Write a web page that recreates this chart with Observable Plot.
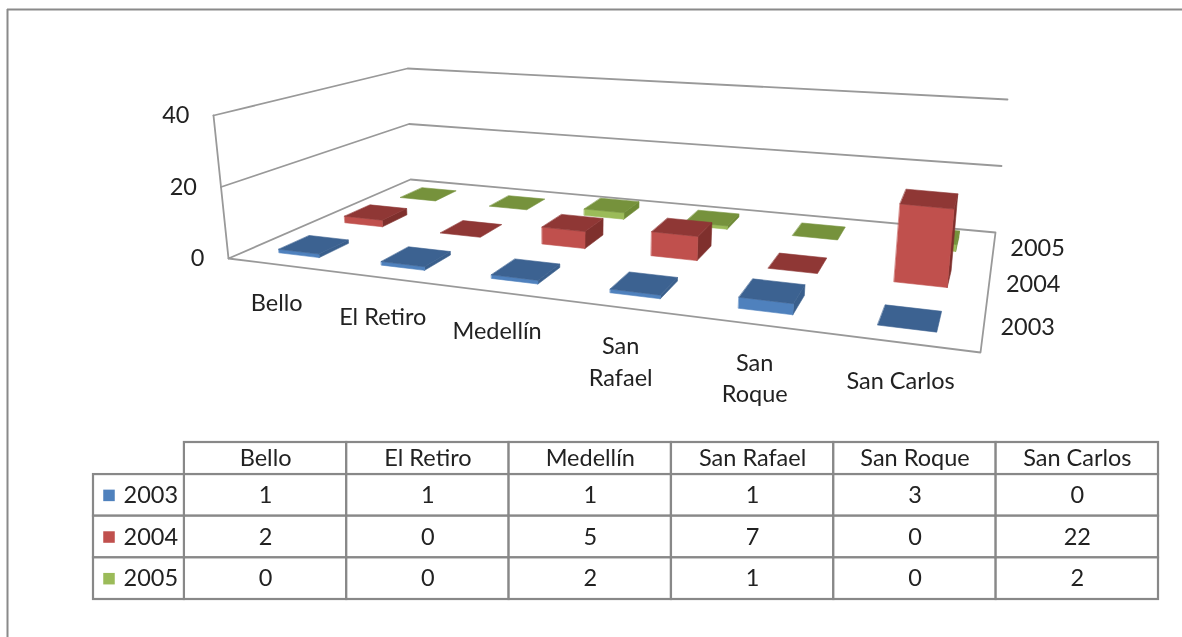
<!DOCTYPE html>
<html><head><meta charset="utf-8">
<script src="https://cdn.jsdelivr.net/npm/d3@7"></script>
<script src="https://cdn.jsdelivr.net/npm/@observablehq/plot@0.6"></script>
<style>
html,body{margin:0;padding:0;background:#fff;overflow:hidden}
#wrap{position:relative;width:1182px;height:637px}
#wrap svg{display:block;position:absolute;left:0;filter:blur(.4px)}
#chart svg{top:0}
#table svg{top:430px}
</style></head><body>
<div id="wrap"><div id="chart"></div><div id="table"></div></div>
<script>
const categories = ["Bello","El Retiro","Medellín","San Rafael","San Roque","San Carlos"];
const axisLabels = ["Bello","El Retiro","Medellín","San\nRafael","San\nRoque","San Carlos"];
const years = ["2003","2004","2005"];
const v2003 = [1,1,1,1,3,0];
const v2004 = [2,0,5,7,0,22];
const v2005 = [0,0,2,1,0,2];
const valueTicks = [0,20,40];
const seriesValues = [v2003,v2004,v2005];
const frontColors = ["#4F81BD","#C0504D","#9BBB59"];
const topColors = ["#3C6291","#8F3735","#76923C"];
const sideColors = ["#3A5F8C","#7F302D","#6E8A36"];
const FONT = "Lato, 'Open Sans', sans-serif";
const FS = 23.5, GRAY = "#8a8a8a";
const valueMax = 40;

// perspective floor homography, plus an interpolated "up" vector for the height axis
function makeProjection(){
  const [x0,y0]=[228,258],[x1,y1]=[980,352],[x2,y2]=[995,232],[x3,y3]=[410,179];
  const dx1=x1-x2,dx2=x3-x2,sx=x0-x1+x2-x3,dy1=y1-y2,dy2=y3-y2,sy=y0-y1+y2-y3;
  const det=dx1*dy2-dx2*dy1;
  const G=(sx*dy2-dx2*sy)/det,H=(dx1*sy-sx*dy1)/det;
  const A=x1-x0+G*x1,B=x3-x0+H*x3,C=x0,D=y1-y0+G*y1,E=y3-y0+H*y3,F=y0;
  const up={fl:[-15,-143],fr:[15,-151],bl:[-3,-111],br:[12,-133]};
  const lerp=(a,b,t)=>a+(b-a)*t;
  return (u,v,w)=>{
    const d=G*u+H*v+1, fx=(A*u+B*v+C)/d, fy=(D*u+E*v+F)/d;
    const ux=lerp(lerp(up.fl[0],up.fr[0],u),lerp(up.bl[0],up.br[0],u),v);
    const uy=lerp(lerp(up.fl[1],up.fr[1],u),lerp(up.bl[1],up.br[1],u),v);
    return [fx+ux*w,fy+uy*w];
  };
}
const P = makeProjection();
const n = categories.length, m = years.length;
const gapU = 0.3, gapV = 0.28;

const polys=[];
function face(id,fill,corners){
  corners.forEach(([u,v,w],o)=>{const [x,y]=P(u,v,w);polys.push({id,fill,x,y,o});});
}
for(let s=m-1;s>=0;s--){
  for(let i=0;i<n;i++){
    const u0=(i+gapU)/n,u1=(i+1-gapU)/n,v0=(s+gapV)/m,v1=(s+1-gapV)/m,w=seriesValues[s][i]/valueMax;
    const key=s+"-"+i;
    if(w>0){
      face(key+"r",sideColors[s],[[u1,v0,0],[u1,v1,0],[u1,v1,w],[u1,v0,w]]);
      face(key+"f",frontColors[s],[[u0,v0,0],[u1,v0,0],[u1,v0,w],[u0,v0,w]]);
    }
    face(key+"t",topColors[s],[[u0,v0,w],[u1,v0,w],[u1,v1,w],[u0,v1,w]]);
  }
}
function seg(id,pts){return pts.map(([u,v,w],o)=>{const [x,y]=P(u,v,w);return {id,x,y,o};});}
const wallLines=[
  ...seg("floor",[[0,0,0],[1,0,0],[1,1,0],[0,1,0],[0,0,0]]),
  ...seg("edge",[[0,0,0],[0,0,1]]),
  ...valueTicks.filter(t=>t>0).flatMap(t=>seg("g"+t,[[0,0,t/valueMax],[0,1,t/valueMax],[1,1,t/valueMax]]))
];
const valueLabels=valueTicks.map(t=>{const [x,y]=P(0,0,t/valueMax);return {t:String(t),x,y};});
const catLabels=axisLabels.map((t,i)=>{const [x,y]=P((i+.5)/n,0,0);return {t,x,y};});
const yearLabels=years.map((t,s)=>{const [x,y]=P(1,(s+.5)/m,0);return {t,x,y};});

const chart=Plot.plot({
  width:1182,height:637,margin:0,
  x:{type:"identity",axis:null},y:{type:"identity",axis:null},
  style:{background:"transparent"},
  marks:[
    Plot.ruleX([7],{y1:9,y2:637,stroke:GRAY,strokeWidth:2}),
    Plot.ruleY([9],{x1:7,x2:1182,stroke:GRAY,strokeWidth:2}),
    Plot.line(wallLines,{x:"x",y:"y",z:"id",stroke:"#999",strokeWidth:1.8,curve:"linear"}),
    Plot.line(polys,{x:"x",y:"y",z:"id",fill:d=>d.fill,stroke:d=>d.fill,strokeWidth:.6,curve:"linear-closed"}),
    Plot.text(valueLabels,{x:"x",y:"y",text:"t",textAnchor:"end",dx:-24,fontSize:FS,fontFamily:FONT,fill:"#222"}),
    Plot.text(catLabels,{x:"x",y:"y",text:"t",lineAnchor:"top",lineHeight:1.33,dx:-2,dy:24.5,fontSize:FS,fontFamily:FONT,fill:"#222"}),
    Plot.text(yearLabels,{x:"x",y:"y",text:"t",dx:44,dy:1,fontSize:FS,fontFamily:FONT,fill:"#222"})
  ]
});
document.getElementById("chart").append(chart);

// data table: column index on x, row index on y
const headerRow=-0.77, labelCol=-0.56;
const cells=[], values=[];
categories.forEach((c,i)=>{
  cells.push({x1:i,x2:i+1,y1:headerRow,y2:0});
  years.forEach((yr,s)=>{
    cells.push({x1:i,x2:i+1,y1:s,y2:s+1});
    values.push({x:i+.5,y:s+.5,t:String(seriesValues[s][i])});
  });
});
years.forEach((yr,s)=>cells.push({x1:labelCol,x2:0,y1:s,y2:s+1}));
const heads=categories.map((t,i)=>({t,x:i+.5,y:headerRow/2}));
const rowHeads=years.map((t,s)=>({t,y:s+.5,c:frontColors[s]}));
const table=Plot.plot({
  width:1182,height:207,marginLeft:93,marginRight:24,marginTop:12,marginBottom:38,
  x:{domain:[labelCol,n],axis:null},
  y:{domain:[headerRow,m],axis:null,reverse:true},
  style:{background:"transparent"},
  marks:[
    Plot.rect(cells,{x1:"x1",x2:"x2",y1:"y1",y2:"y2",fill:"#fff",stroke:"#888",strokeWidth:2.2}),
    Plot.text(heads,{x:"x",y:"y",text:"t",fontSize:FS,fontFamily:FONT,fill:"#222"}),
    Plot.text(values,{x:"x",y:"y",text:"t",fontSize:FS,fontFamily:FONT,fill:"#222"}),
    Plot.dot(rowHeads,{x:labelCol,y:"y",symbol:"square",r:6.5,dx:15.5,fill:"c",stroke:"none"}),
    Plot.text(rowHeads,{x:labelCol,y:"y",text:"t",textAnchor:"start",dx:30,fontSize:FS,fontFamily:FONT,fill:"#222"})
  ]
});
document.getElementById("table").append(table);
</script></body></html>
